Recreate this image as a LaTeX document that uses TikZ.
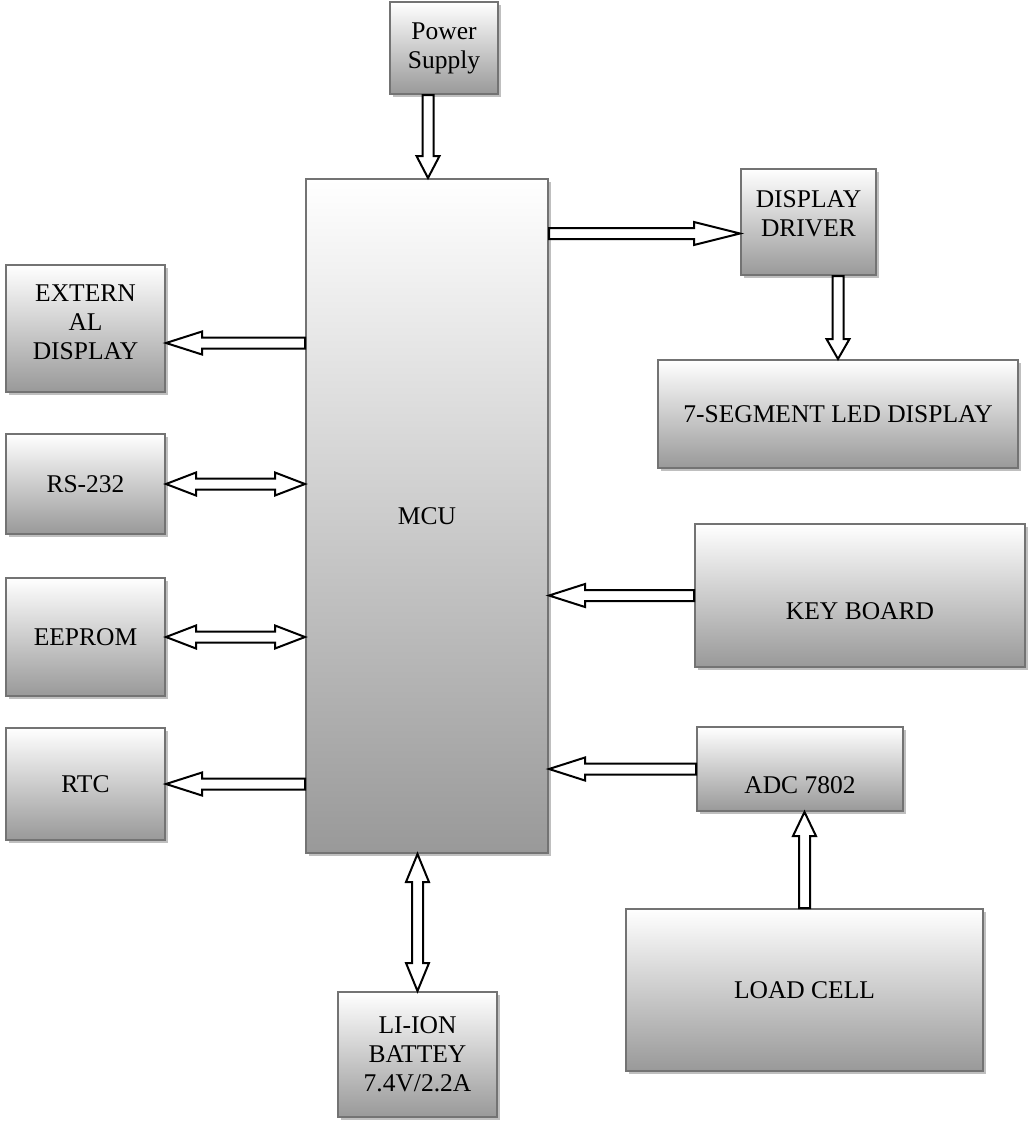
\documentclass[tikz,border=0pt]{standalone}
\usepackage{fontspec}
\setmainfont{Liberation Serif}
\usepackage{tikz}
\usetikzlibrary{calc,shadows}

\newcommand{\shaftw}{2.75pt}
\newcommand{\headw}{5.75pt}

\begin{document}
\begin{tikzpicture}[x=0.5pt, y=-0.5pt,
    font=\fontsize{12.75pt}{14.5pt}\selectfont,
    blk/.style={fill=white, draw=black, line width=1pt, to path={
        ($(\tikztostart)!\shaftw!90:(\tikztotarget)$)
        -- ($(\tikztotarget)!#1!(\tikztostart)!\shaftw!-90:(\tikztostart)$)
        -- ($(\tikztotarget)!#1!(\tikztostart)!\headw!-90:(\tikztostart)$)
        -- (\tikztotarget)
        -- ($(\tikztotarget)!#1!(\tikztostart)!\headw!90:(\tikztostart)$)
        -- ($(\tikztotarget)!#1!(\tikztostart)!\shaftw!90:(\tikztostart)$)
        -- ($(\tikztostart)!\shaftw!-90:(\tikztotarget)$) -- cycle}},
    dblk/.style={fill=white, draw=black, line width=1pt, to path={
        (\tikztostart)
        -- ($(\tikztostart)!#1!(\tikztotarget)!\headw!90:(\tikztotarget)$)
        -- ($(\tikztostart)!#1!(\tikztotarget)!\shaftw!90:(\tikztotarget)$)
        -- ($(\tikztotarget)!#1!(\tikztostart)!\shaftw!-90:(\tikztostart)$)
        -- ($(\tikztotarget)!#1!(\tikztostart)!\headw!-90:(\tikztostart)$)
        -- (\tikztotarget)
        -- ($(\tikztotarget)!#1!(\tikztostart)!\headw!90:(\tikztostart)$)
        -- ($(\tikztotarget)!#1!(\tikztostart)!\shaftw!90:(\tikztostart)$)
        -- ($(\tikztostart)!#1!(\tikztotarget)!\shaftw!-90:(\tikztotarget)$)
        -- ($(\tikztostart)!#1!(\tikztotarget)!\headw!-90:(\tikztotarget)$)
        -- cycle}},
    sz/.style 2 args={minimum width=#1*0.5pt, minimum height=#2*0.5pt}]
    \tikzstyle{box}=[draw=black!55, line width=1pt, top color=white,
                     bottom color=black!40, align=center, inner sep=0pt,
                     drop shadow={shadow xshift=1.5pt, shadow yshift=-1.5pt,
                                  fill=black!25, opacity=1}]

    \useasboundingbox (0,0) rectangle (1031,1126);

    \node[box, sz={108}{92}]  (ps)  at (444,48)     {Power\\Supply};
    \node[box, sz={242}{674}] (mcu) at (427,516)    {MCU};
    \node[box, sz={135}{106}] (dd)  at (808.5,222)  {DISPLAY\\DRIVER\rule[-8pt]{0pt}{8pt}};
    \node[box, sz={159}{127}] (ext) at (85.5,328.5) {EXTERN\\AL\\DISPLAY\rule[-6pt]{0pt}{6pt}};
    \node[box, sz={159}{100}] (rs)  at (85.5,484)   {RS-232};
    \node[box, sz={159}{118}] (ee)  at (85.5,637)   {EEPROM};
    \node[box, sz={159}{112}] (rtc) at (85.5,784)   {RTC};
    \node[box, sz={360}{108}] (seg) at (838,414)    {7-SEGMENT LED DISPLAY};
    \node[box, sz={330}{143}] (kb)  at (860,595.5)  {\rule{0pt}{24pt}KEY BOARD};
    \node[box, sz={206}{84}]  (adc) at (800,769)    {\rule{0pt}{25pt}ADC 7802};
    \node[box, sz={357}{162}] (lc)  at (804.5,990)  {LOAD CELL};
    \node[box, sz={159}{125}] (bat) at (417.5,1054.5) {LI-ION\\BATTEY\\7.4V/2.2A};

    \coordinate (p1) at ([xshift=-8pt]ps.south);
    \coordinate (d1) at ([yshift=-5.75pt]dd.west);
    \coordinate (e1) at ([yshift=-7.25pt]ext.east);

    \draw[blk=11pt] (p1) to (p1 |- mcu.north);
    \draw[blk=23pt] (mcu.east |- d1) to (d1);
    \draw[blk=10pt] (dd.south -| seg.north) to (seg.north);
    \draw[blk=18pt] (mcu.west |- e1) to (e1);
    \draw[dblk=15pt] (rs.east) to (mcu.west |- rs.east);
    \draw[dblk=15pt] (ee.east) to (mcu.west |- ee.east);
    \draw[blk=18pt] (mcu.west |- rtc.east) to (rtc.east);
    \draw[blk=18pt] (kb.west) to (mcu.east |- kb.west);
    \draw[blk=18pt] (adc.west) to (mcu.east |- adc.west);
    \draw[blk=12pt] (lc.north) to (lc.north |- adc.south);
    \draw[dblk=14pt] (bat.north) to (bat.north |- mcu.south);
\end{tikzpicture}
\end{document}
